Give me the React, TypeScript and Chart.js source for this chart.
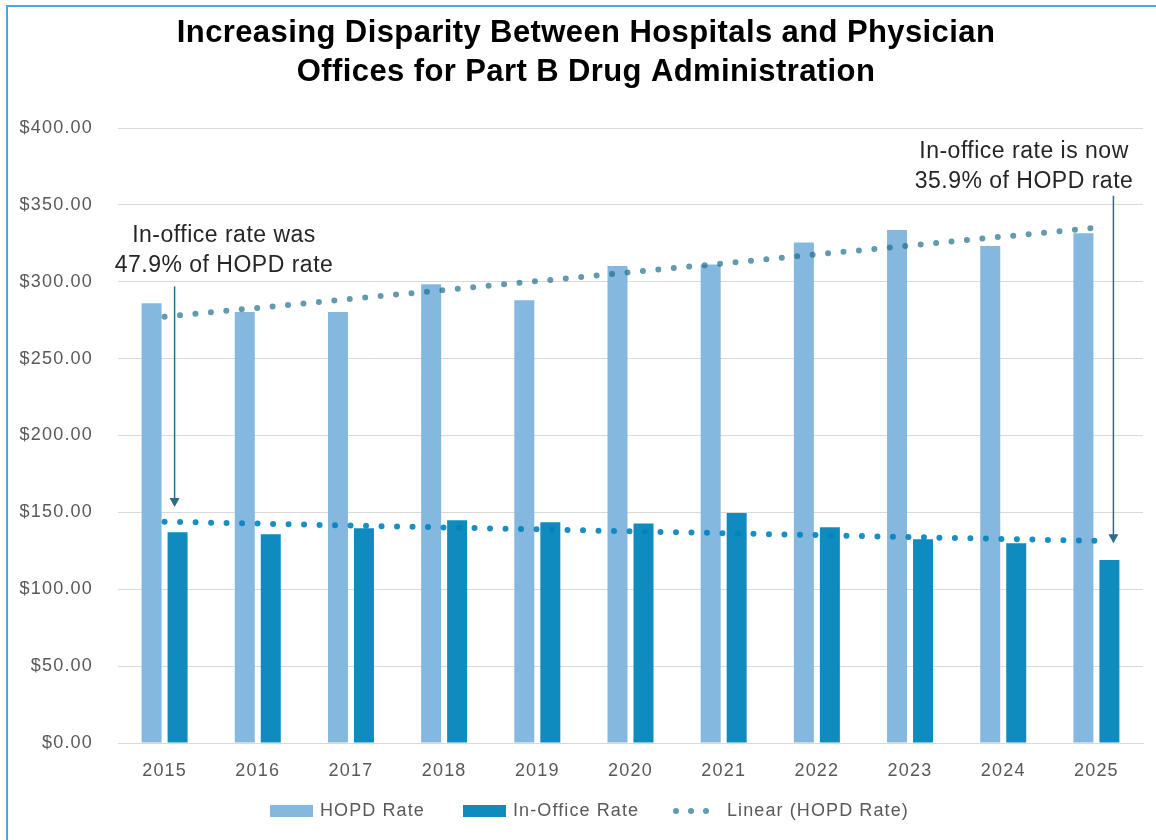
import React, { useEffect, useRef } from "react";
import { Chart, registerables } from "chart.js";

Chart.register(...registerables);

// ---- data ----
const years = ["2015", "2016", "2017", "2018", "2019", "2020", "2021", "2022", "2023", "2024", "2025"];
const hopdRate = [286.0, 280.3, 280.3, 298.3, 287.9, 310.2, 311.3, 325.6, 333.6, 323.2, 331.5];
const inOfficeRate = [137.0, 135.7, 139.6, 144.8, 143.5, 142.8, 149.6, 140.3, 132.5, 129.9, 119.0];

const titleLines = [
  "Increasing Disparity Between Hospitals and Physician",
  "Offices for Part B Drug Administration",
];
const noteStart = ["In-office rate was", "47.9% of HOPD rate"];
const noteEnd = ["In-office rate is now", "35.9% of HOPD rate"];
const legendLabels = ["HOPD Rate", "In-Office Rate", "Linear (HOPD Rate)"];

const yMin = 0;
const yMax = 400;
const yStep = 50;

// ---- styling ----
const FONT = '"Liberation Sans", Arial, sans-serif';
const HOPD_COLOR = "#85B8DF";
const OFFICE_COLOR = "#0F8BBF";
const HOPD_TREND = "rgba(31,111,139,0.7)";
const OFFICE_TREND = "rgba(0,130,190,0.9)";
const TEXT_GRAY = "#595959";
const GRID = "#D9D9D9";
const ARROW = "#2D6C88";

const W = 1156;
const H = 840;

// Ordinary least-squares line through a series (Excel "Linear" trendline)
function linearTrend(values: number[]): number[] {
  const n = values.length;
  const mx = (n - 1) / 2;
  const my = values.reduce((a, b) => a + b, 0) / n;
  let num = 0;
  let den = 0;
  values.forEach((v, i) => {
    num += (i - mx) * (v - my);
    den += (i - mx) * (i - mx);
  });
  const slope = num / den;
  return values.map((_, i) => my + slope * (i - mx));
}

const overlayPlugin = {
  id: "overlay",
  beforeDraw(chart: any) {
    const ctx = chart.ctx;
    ctx.save();
    ctx.fillStyle = "#ffffff";
    ctx.fillRect(0, 0, chart.width, chart.height);
    ctx.restore();
    ctx.letterSpacing = "1.2px";
  },
  afterDraw(chart: any) {
    const ctx = chart.ctx as CanvasRenderingContext2D & { letterSpacing: string };
    const xs = chart.scales.x;
    const ys = chart.scales.y;

    // title
    ctx.save();
    ctx.fillStyle = "#000000";
    ctx.font = `bold 31px ${FONT}`;
    ctx.letterSpacing = "0.4px";
    ctx.textAlign = "center";
    ctx.textBaseline = "alphabetic";
    ctx.fillText(titleLines[0], 586, 42);
    ctx.fillText(titleLines[1], 586, 81);
    ctx.restore();

    // annotations
    const drawNote = (lines: string[], cx: number, base: number) => {
      ctx.save();
      ctx.fillStyle = "#262626";
      ctx.font = `23px ${FONT}`;
      ctx.letterSpacing = "0.5px";
      ctx.textAlign = "center";
      ctx.textBaseline = "alphabetic";
      lines.forEach((l, i) => ctx.fillText(l, cx, base + i * 30));
      ctx.restore();
    };
    drawNote(noteStart, 224, 242);
    drawNote(noteEnd, 1024, 158);

    const drawArrow = (x: number, yTop: number, yTip: number) => {
      ctx.save();
      ctx.strokeStyle = ARROW;
      ctx.fillStyle = ARROW;
      ctx.lineWidth = 1.5;
      ctx.beginPath();
      ctx.moveTo(x, yTop);
      ctx.lineTo(x, yTip - 8);
      ctx.stroke();
      ctx.beginPath();
      ctx.moveTo(x - 5, yTip - 9);
      ctx.lineTo(x + 5, yTip - 9);
      ctx.lineTo(x, yTip);
      ctx.closePath();
      ctx.fill();
      ctx.restore();
    };
    drawArrow(xs.getPixelForValue(0) + 10, ys.getPixelForValue(297), ys.getPixelForValue(153.5));
    drawArrow(xs.getPixelForValue(years.length - 1) + 17, ys.getPixelForValue(356), ys.getPixelForValue(130));

    // legend
    const ly = 811;
    ctx.save();
    ctx.font = `18px ${FONT}`;
    ctx.letterSpacing = "1.1px";
    ctx.textBaseline = "middle";
    ctx.textAlign = "left";
    ctx.fillStyle = HOPD_COLOR;
    ctx.fillRect(270, ly - 6, 43, 12);
    ctx.fillStyle = OFFICE_COLOR;
    ctx.fillRect(463, ly - 6, 43, 12);
    ctx.fillStyle = HOPD_TREND;
    [676, 691, 706].forEach((dx) => {
      ctx.beginPath();
      ctx.arc(dx, ly, 3, 0, Math.PI * 2);
      ctx.fill();
    });
    ctx.fillStyle = TEXT_GRAY;
    ctx.fillText(legendLabels[0], 320, ly);
    ctx.fillText(legendLabels[1], 513, ly);
    ctx.fillText(legendLabels[2], 727, ly);
    ctx.restore();
  },
};

export default function App() {
  const canvasRef = useRef<HTMLCanvasElement | null>(null);

  useEffect(() => {
    const canvas = canvasRef.current;
    if (!canvas) return;
    const hopdTrend = linearTrend(hopdRate);
    const officeTrend = linearTrend(inOfficeRate);

    const chart = new Chart(canvas, {
      type: "bar",
      data: {
        labels: years,
        datasets: [
          {
            type: "line",
            label: "Linear (HOPD Rate)",
            data: hopdTrend,
            borderColor: HOPD_TREND,
            borderWidth: 6,
            borderDash: [0, 15.5],
            borderCapStyle: "round",
            pointRadius: 0,
            fill: false,
            order: 0,
          } as any,
          {
            type: "line",
            label: "Linear (In-Office Rate)",
            data: officeTrend,
            borderColor: OFFICE_TREND,
            borderWidth: 6,
            borderDash: [0, 15.5],
            borderCapStyle: "round",
            pointRadius: 0,
            fill: false,
            order: 0,
          } as any,
          {
            label: "HOPD Rate",
            data: hopdRate,
            backgroundColor: HOPD_COLOR,
            categoryPercentage: 0.558,
            barPercentage: 0.769,
            order: 1,
          },
          {
            label: "In-Office Rate",
            data: inOfficeRate,
            backgroundColor: OFFICE_COLOR,
            categoryPercentage: 0.558,
            barPercentage: 0.769,
            order: 1,
          },
        ],
      },
      options: {
        responsive: false,
        animation: false,
        devicePixelRatio: 1,
        layout: { padding: { left: 0, top: 128, right: 13, bottom: 0 } },
        plugins: {
          legend: { display: false },
          title: { display: false },
          tooltip: { enabled: false },
        },
        scales: {
          x: {
            stacked: false,
            grid: { display: false, drawTicks: false },
            border: { display: true, color: GRID, width: 1 },
            ticks: {
              color: TEXT_GRAY,
              font: { family: FONT, size: 18 },
              padding: 17,
              maxRotation: 0,
            },
            afterFit(axis: any) {
              axis.height = 97;
            },
          },
          y: {
            min: yMin,
            max: yMax,
            grid: { color: GRID, lineWidth: 1, drawTicks: false },
            border: { display: false },
            ticks: {
              stepSize: yStep,
              color: TEXT_GRAY,
              font: { family: FONT, size: 18 },
              padding: 25,
              callback: (v: any) => "$" + Number(v).toFixed(2),
            },
            afterFit(axis: any) {
              axis.width = 118;
            },
          },
        },
      },
      plugins: [overlayPlugin],
    });
    return () => chart.destroy();
  }, []);

  return (
    <div
      style={{
        position: "absolute",
        left: 0,
        top: 0,
        width: W,
        height: H,
        overflow: "hidden",
        background: "#ffffff",
      }}
    >
      <canvas
        ref={canvasRef}
        width={W}
        height={H}
        style={{ position: "absolute", left: 0, top: 0, width: W, height: H }}
      />
      <div
        style={{
          position: "absolute",
          left: 6,
          top: 5,
          width: W + 40,
          height: H + 40,
          border: "2px solid #4FA6D6",
          boxSizing: "border-box",
          pointerEvents: "none",
        }}
      />
    </div>
  );
}
